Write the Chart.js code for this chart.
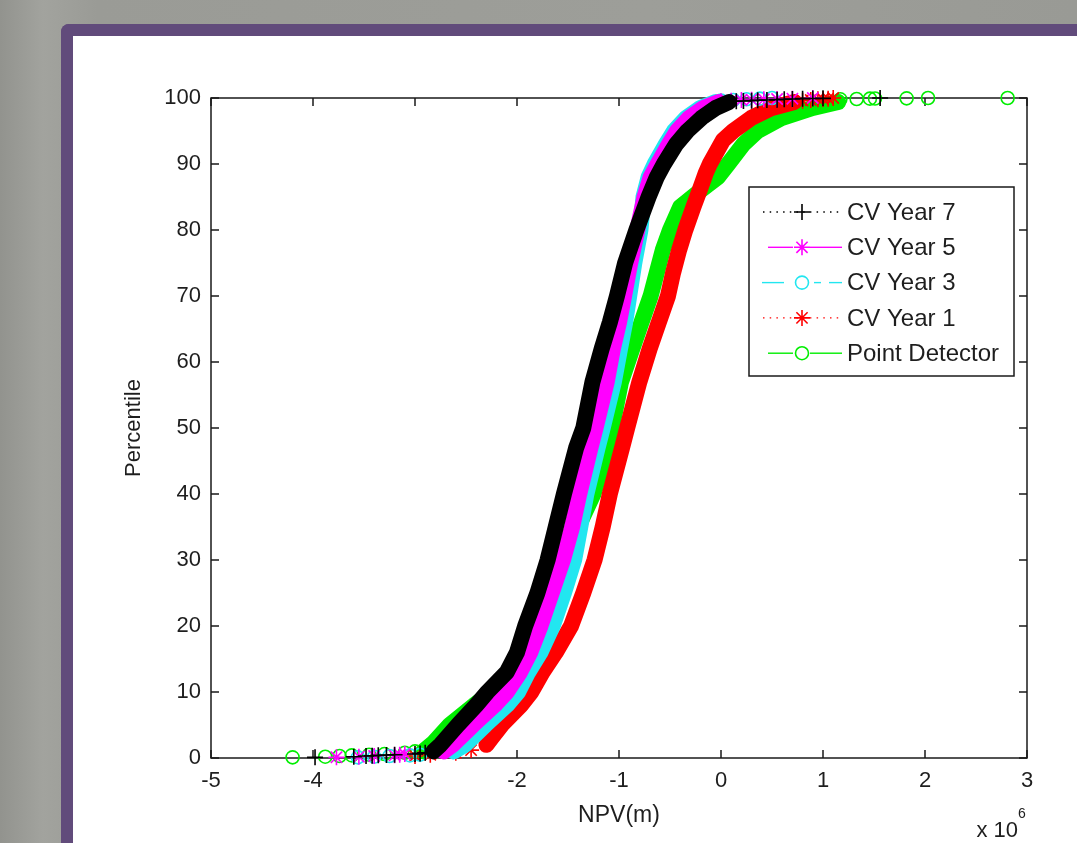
<!DOCTYPE html>
<html lang="en">

<head>
    <meta charset="UTF-8">
    <meta name="viewport" content="width=device-width, initial-scale=1.0">
    <script src="https://cdn.jsdelivr.net/npm/chart.js"></script>
    <title>NPV - Percentile</title>
    <style>
        body {
            margin: 0;
            width: 1077px;
            height: 843px;
            overflow: hidden;
            position: relative;
            background: linear-gradient(90deg, #92938e 0%, #a2a39e 4%, #9a9b96 9%, #9d9e99 60%, #999a95 100%);
        }

        .painel {
            position: absolute;
            left: 61px;
            top: 24px;
            width: 1040px;
            height: 840px;
            background: #fff;
            border: 12px solid #614b7b;
            border-right: none;
            border-bottom: none;
            border-radius: 8px 0 0 0;
        }

        #myChart {
            position: absolute;
            left: 0;
            top: 0;
        }
    </style>
</head>

<body>
    <div class="painel"></div>
    <canvas id="myChart" width="1077" height="843"></canvas>
</body>
<script>

    // Valores: NPV em milhões (eixo "x 10^6") contra percentil

    // CV Year 7 (preto)
    const percentilCV7 = [1, 2, 5, 8, 10, 13, 16, 20, 25, 30, 35, 40, 47, 50, 57, 62, 66, 70, 75, 80, 85, 88, 90, 93, 95, 97, 98.5, 99.4];
    const npvCV7 = [-2.82, -2.75, -2.58, -2.40, -2.29, -2.10, -2.00, -1.92, -1.80, -1.70, -1.62, -1.54, -1.42, -1.35, -1.26, -1.17, -1.09, -1.02, -0.94, -0.83, -0.71, -0.63, -0.56, -0.44, -0.33, -0.19, -0.05, 0.08];
    const caudaNpvCV7 = [-3.98, -3.60, -3.48, -3.42, -3.36, -3.28, -3.20, -3.00, -2.95, -2.90, 0.15, 0.22, 0.30, 0.36, 0.45, 0.55, 0.62, 0.70, 0.80, 0.90, 1.00, 1.56];
    const caudaPercentilCV7 = [0.1, 0.2, 0.3, 0.35, 0.4, 0.45, 0.5, 0.6, 0.7, 0.8, 99.5, 99.55, 99.6, 99.65, 99.7, 99.75, 99.8, 99.85, 99.9, 99.92, 99.95, 100];

    // CV Year 5 (magenta)
    const percentilCV5 = [1, 2, 5, 8, 10, 13, 16, 20, 25, 30, 35, 40, 47, 50, 57, 62, 66, 70, 75, 80, 85, 88, 90, 93, 95, 97, 98.5, 99.4];
    const npvCV5 = [-2.72, -2.63, -2.43, -2.22, -2.10, -1.97, -1.87, -1.77, -1.66, -1.55, -1.46, -1.39, -1.28, -1.23, -1.12, -1.06, -1.00, -0.95, -0.89, -0.82, -0.75, -0.69, -0.62, -0.51, -0.43, -0.31, -0.17, -0.02];
    const caudaNpvCV5 = [-3.77, -3.55, -3.40, -3.20, -3.15, -3.10, 0.00, 0.10, 0.20, 0.30, 0.42, 0.55, 0.70, 0.90];
    const caudaPercentilCV5 = [0.1, 0.2, 0.3, 0.4, 0.5, 0.6, 99.5, 99.6, 99.7, 99.75, 99.8, 99.85, 99.9, 100];

    // CV Year 3 (ciano)
    const percentilCV3 = [1, 2, 5, 8, 10, 13, 16, 20, 25, 30, 35, 40, 47, 50, 57, 62, 66, 70, 75, 80, 85, 88, 90, 93, 95, 97, 98.5, 99.4];
    const npvCV3 = [-2.62, -2.51, -2.31, -2.10, -1.99, -1.89, -1.77, -1.65, -1.54, -1.44, -1.38, -1.32, -1.21, -1.16, -1.05, -0.99, -0.94, -0.90, -0.85, -0.79, -0.76, -0.71, -0.65, -0.54, -0.46, -0.34, -0.20, -0.05];
    const caudaNpvCV3 = [-3.56, -3.40, -3.25, -3.05, -2.95, 0.00, 0.12, 0.25, 0.38, 0.50];
    const caudaPercentilCV3 = [0.1, 0.2, 0.3, 0.4, 0.5, 99.6, 99.7, 99.8, 99.9, 100];

    // CV Year 1 (vermelho)
    const percentilCV1 = [2, 3, 5, 8, 10, 13, 16, 20, 25, 30, 35, 40, 47, 50, 57, 62, 66, 70, 73.5, 77, 80, 83.5, 86, 88.6, 90, 93.6, 95, 97, 98.5, 99.4];
    const npvCV1 = [-2.30, -2.25, -2.15, -1.96, -1.86, -1.75, -1.62, -1.47, -1.35, -1.24, -1.16, -1.09, -0.97, -0.92, -0.80, -0.70, -0.61, -0.52, -0.47, -0.41, -0.35, -0.27, -0.21, -0.15, -0.11, 0.02, 0.12, 0.30, 0.50, 0.72];
    const caudaNpvCV1 = [-3.00, -2.85, -2.60, -2.45, 0.80, 0.88, 0.95, 1.00, 1.05, 1.10];
    const caudaPercentilCV1 = [0.3, 0.5, 0.8, 1.2, 99.6, 99.7, 99.8, 99.85, 99.9, 100];

    // Point Detector (verde)
    const percentilPD = [1, 2.3, 5, 8, 10, 13, 16, 20, 25, 30, 35, 40, 47, 50, 57, 62, 66, 70, 73.5, 77, 80, 83.5, 86, 88, 90, 93, 95, 97, 98.5, 99.4];
    const npvPD = [-2.92, -2.82, -2.66, -2.42, -2.25, -2.06, -1.95, -1.82, -1.65, -1.52, -1.40, -1.25, -1.11, -1.07, -0.98, -0.87, -0.78, -0.69, -0.63, -0.57, -0.50, -0.40, -0.20, -0.03, 0.07, 0.22, 0.36, 0.60, 0.90, 1.15];
    const caudaNpvPD = [-4.20, -3.88, -3.74, -3.62, -3.45, -3.30, -3.10, -3.00, 1.17, 1.33, 1.46, 1.51, 1.82, 2.03, 2.81];
    const caudaPercentilPD = [0.1, 0.2, 0.3, 0.4, 0.5, 0.6, 0.8, 1.0, 99.8, 99.85, 99.9, 99.92, 99.95, 100, 100];

    // Eixos
    const ticksX = [-5, -4, -3, -2, -1, 0, 1, 2, 3];
    const ticksY = [0, 10, 20, 30, 40, 50, 60, 70, 80, 90, 100];

    const fonte = "'Liberation Sans', Arial, Helvetica, sans-serif";
    const corTexto = '#1e1e1e';

    const series = [
        { nome: 'CV Year 7', cor: '#000000', marcador: 'cross', linha: 'pontilhada', npv: npvCV7, pct: percentilCV7, caudaNpv: caudaNpvCV7, caudaPct: caudaPercentilCV7 },
        { nome: 'CV Year 5', cor: '#ff00ff', marcador: 'star', linha: 'tracejada', npv: npvCV5, pct: percentilCV5, caudaNpv: caudaNpvCV5, caudaPct: caudaPercentilCV5 },
        { nome: 'CV Year 3', cor: '#22e6f0', marcador: 'circle', linha: 'tracoponto', npv: npvCV3, pct: percentilCV3, caudaNpv: caudaNpvCV3, caudaPct: caudaPercentilCV3 },
        { nome: 'CV Year 1', cor: '#ff0000', marcador: 'star', linha: 'pontilhada', npv: npvCV1, pct: percentilCV1, caudaNpv: caudaNpvCV1, caudaPct: caudaPercentilCV1 },
        { nome: 'Point Detector', cor: '#00ee00', marcador: 'circle', linha: 'tracejada', npv: npvPD, pct: percentilPD, caudaNpv: caudaNpvPD, caudaPct: caudaPercentilPD }
    ];

    function pares(xs, ys) {
        return xs.map(function (x, i) { return { x: x, y: ys[i] }; });
    }

    // cada série: a faixa grossa de marcadores + os marcadores soltos nas caudas
    const datasets = [];
    series.forEach(function (s, i) {
        datasets.push({
            label: s.nome,
            data: pares(s.npv, s.pct),
            showLine: true,
            borderColor: s.cor,
            borderWidth: 16,
            borderJoinStyle: 'round',
            borderCapStyle: 'round',
            tension: 0,
            pointRadius: 0,
            clip: false,
            order: i + 1
        });
        datasets.push({
            label: s.nome + ' (cauda)',
            data: pares(s.caudaNpv, s.caudaPct),
            showLine: false,
            pointStyle: s.marcador,
            pointRadius: s.marcador == 'circle' ? 6.5 : 8,
            pointBorderColor: s.cor,
            pointBackgroundColor: 'rgba(0,0,0,0)',
            pointBorderWidth: 1.6,
            clip: false,
            order: i + 1
        });
    });

    function desenharMarcador(ctx, tipo, x, y, cor) {
        ctx.save();
        ctx.strokeStyle = cor;
        ctx.lineWidth = 1.6;
        ctx.setLineDash([]);
        ctx.beginPath();
        if (tipo == 'circle') {
            ctx.arc(x, y, 6.5, 0, Math.PI * 2);
        } else {
            const r = 8;
            ctx.moveTo(x - r, y); ctx.lineTo(x + r, y);
            ctx.moveTo(x, y - r); ctx.lineTo(x, y + r);
            if (tipo == 'star') {
                const d = r * 0.7;
                ctx.moveTo(x - d, y - d); ctx.lineTo(x + d, y + d);
                ctx.moveTo(x - d, y + d); ctx.lineTo(x + d, y - d);
            }
        }
        ctx.stroke();
        ctx.restore();
    }

    // moldura estilo MATLAB, com ticks para dentro nos quatro lados
    const moldura = {
        id: 'moldura',
        beforeDatasetsDraw(chart) {
            const ctx = chart.ctx, a = chart.chartArea;
            const sx = chart.scales.x, sy = chart.scales.y;
            ctx.save();
            ctx.strokeStyle = '#1a1a1a';
            ctx.lineWidth = 1.5;
            ctx.strokeRect(a.left, a.top, a.right - a.left, a.bottom - a.top);
            ctx.beginPath();
            ticksX.forEach(function (v) {
                const x = sx.getPixelForValue(v);
                ctx.moveTo(x, a.bottom); ctx.lineTo(x, a.bottom - 8);
                ctx.moveTo(x, a.top); ctx.lineTo(x, a.top + 8);
            });
            ticksY.forEach(function (v) {
                const y = sy.getPixelForValue(v);
                ctx.moveTo(a.left, y); ctx.lineTo(a.left + 8, y);
                ctx.moveTo(a.right, y); ctx.lineTo(a.right - 8, y);
            });
            ctx.stroke();
            ctx.restore();
        }
    };

    // legenda dentro da área do gráfico
    const tracos = {
        pontilhada: [{ de: 763, ate: 842, dash: [1.5, 5.2] }],
        tracejada: [{ de: 768, ate: 793 }, { de: 810, ate: 842 }],
        tracoponto: [{ de: 762, ate: 784 }, { de: 814, ate: 821 }, { de: 829, ate: 842 }]
    };

    const legenda = {
        id: 'legenda',
        afterDraw(chart) {
            const ctx = chart.ctx;
            const caixa = { x: 749, y: 187, w: 265, h: 189 };
            ctx.save();
            ctx.fillStyle = '#ffffff';
            ctx.fillRect(caixa.x, caixa.y, caixa.w, caixa.h);
            ctx.strokeStyle = '#1a1a1a';
            ctx.lineWidth = 1.5;
            ctx.strokeRect(caixa.x, caixa.y, caixa.w, caixa.h);
            series.forEach(function (s, i) {
                const y = caixa.y + 25 + i * 35.3;
                ctx.strokeStyle = s.cor;
                ctx.lineWidth = 1.4;
                tracos[s.linha].forEach(function (t) {
                    ctx.setLineDash(t.dash || []);
                    ctx.beginPath();
                    ctx.moveTo(t.de, y);
                    ctx.lineTo(t.ate, y);
                    ctx.stroke();
                });
                ctx.setLineDash([]);
                desenharMarcador(ctx, s.marcador, 802, y, s.cor);
                ctx.fillStyle = corTexto;
                ctx.font = '24px ' + fonte;
                ctx.textBaseline = 'middle';
                ctx.textAlign = 'left';
                ctx.fillText(s.nome, 847, y + 1);
            });
            ctx.restore();
        }
    };

    // multiplicador "x 10^6" embaixo à direita
    const expoente = {
        id: 'expoente',
        afterDraw(chart) {
            const ctx = chart.ctx, a = chart.chartArea;
            ctx.save();
            ctx.fillStyle = corTexto;
            ctx.textBaseline = 'alphabetic';
            ctx.textAlign = 'right';
            ctx.font = '22px ' + fonte;
            ctx.fillText('x 10', a.right - 9, 837);
            ctx.textAlign = 'left';
            ctx.font = '14px ' + fonte;
            ctx.fillText('6', a.right - 9, 818);
            ctx.restore();
        }
    };

    const config = {
        type: 'scatter',
        data: { datasets: datasets },
        options: {
            responsive: false,
            animation: false,
            events: [],
            layout: { padding: { left: 0, top: 98, right: 50, bottom: 0 } },
            plugins: {
                legend: { display: false },
                tooltip: { enabled: false }
            },
            scales: {
                x: {
                    type: 'linear',
                    min: -5,
                    max: 3,
                    afterFit: function (s) { s.height = 85; },
                    afterBuildTicks: function (s) { s.ticks = ticksX.map(function (v) { return { value: v }; }); },
                    grid: { display: false, drawTicks: false },
                    border: { display: false },
                    ticks: { font: { family: fonte, size: 22 }, color: corTexto, padding: 10, maxRotation: 0, autoSkip: false },
                    title: { display: true, text: 'NPV(m)', font: { family: fonte, size: 23 }, color: corTexto, padding: { top: 0, bottom: 14 } }
                },
                y: {
                    type: 'linear',
                    min: 0,
                    max: 100,
                    afterFit: function (s) { s.width = 211; },
                    afterBuildTicks: function (s) { s.ticks = ticksY.map(function (v) { return { value: v }; }); },
                    grid: { display: false, drawTicks: false },
                    border: { display: false },
                    ticks: { font: { family: fonte, size: 22 }, color: corTexto, padding: 10, autoSkip: false },
                    title: { display: true, text: 'Percentile', font: { family: fonte, size: 22 }, color: corTexto, padding: { top: 121, bottom: 0 } }
                }
            }
        },
        plugins: [moldura, legenda, expoente]
    };

    const myChart = new Chart(document.getElementById('myChart'), config);

</script>

</html>
